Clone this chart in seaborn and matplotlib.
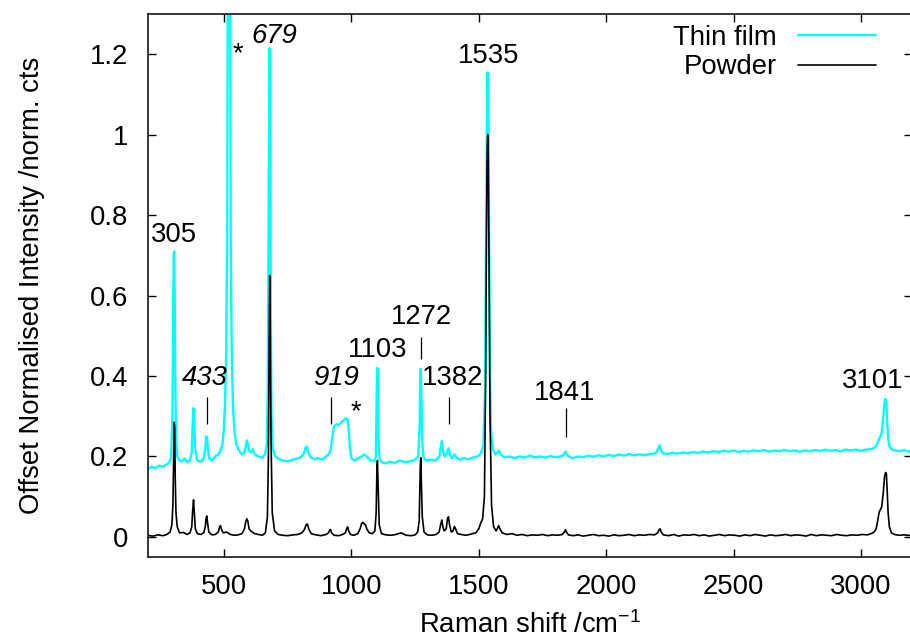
import matplotlib
matplotlib.use('Agg')
import matplotlib.pyplot as plt
import seaborn as sns
import pandas as pd
from matplotlib.ticker import FuncFormatter

# ---------------- data ----------------
powder_shift = [
    200, 220, 240, 260, 275, 288, 295, 299, 302, 304,
    306, 308, 311, 316, 325, 340, 355, 366, 373, 377,
    380, 383, 387, 395, 408, 420, 426, 429, 432, 435,
    440, 452, 465, 477, 483, 486, 490, 497, 510, 525,
    540, 555, 570, 580, 585, 589, 593, 598, 606, 620,
    635, 650, 662, 670, 674, 677, 679, 681, 684, 689,
    698, 712, 730, 750, 770, 790, 805, 815, 822, 827,
    832, 842, 860, 880, 900, 910, 915, 918, 922, 932,
    950, 965, 976, 981, 985, 989, 996, 1010, 1025, 1034,
    1040, 1045, 1050, 1055, 1060, 1070, 1082, 1092, 1097, 1100,
    1102, 1105, 1109, 1118, 1135, 1155, 1175, 1195, 1215, 1235,
    1250, 1260, 1266, 1270, 1272, 1274, 1278, 1285, 1298, 1315,
    1332, 1344, 1350, 1355, 1359, 1364, 1372, 1377, 1381, 1385,
    1392, 1399, 1404, 1409, 1416, 1430, 1450, 1470, 1488, 1500,
    1508, 1515, 1522, 1527, 1530, 1533, 1535, 1537, 1540, 1544,
    1550, 1558, 1568, 1574, 1578, 1583, 1592, 1610, 1630, 1650,
    1670, 1690, 1710, 1730, 1750, 1770, 1790, 1810, 1828, 1836,
    1840, 1844, 1852, 1870, 1890, 1910, 1930, 1950, 1970, 1990,
    2010, 2030, 2050, 2070, 2090, 2110, 2130, 2150, 2170, 2190,
    2202, 2208, 2212, 2216, 2225, 2245, 2265, 2285, 2305, 2325,
    2345, 2365, 2385, 2405, 2425, 2445, 2465, 2485, 2505, 2525,
    2545, 2565, 2585, 2605, 2625, 2645, 2665, 2685, 2705, 2725,
    2745, 2765, 2785, 2805, 2825, 2845, 2865, 2885, 2905, 2925,
    2945, 2965, 2985, 3005, 3025, 3040, 3052, 3060, 3066, 3072,
    3077, 3082, 3088, 3093, 3097, 3100, 3103, 3107, 3112, 3120,
    3132, 3150, 3170, 3200,
]
powder_int = [
    .004, .002, .005, .003, .006, .012, .030, .080, .200, .285,
    .270, .150, .060, .025, .010, .011, .006, .010, .025, .070,
    .092, .060, .020, .008, .006, .010, .025, .045, .052, .035,
    .012, .005, .006, .012, .026, .028, .018, .010, .012, .006,
    .004, .005, .008, .020, .038, .045, .040, .020, .014, .008,
    .006, .004, .010, .050, .200, .500, .650, .550, .250, .060,
    .015, .006, .004, .003, .005, .006, .010, .018, .030, .032,
    .020, .008, .005, .003, .006, .010, .018, .018, .010, .004,
    .003, .006, .010, .020, .025, .015, .006, .004, .008, .020,
    .034, .036, .032, .030, .020, .010, .008, .015, .060, .170,
    .190, .120, .030, .008, .005, .004, .006, .010, .004, .003,
    .005, .012, .040, .170, .197, .150, .050, .012, .005, .004,
    .006, .012, .030, .042, .025, .015, .020, .045, .050, .030,
    .012, .015, .026, .020, .008, .006, .004, .007, .010, .020,
    .035, .045, .100, .400, .750, .970, 1.000, .950, .700, .300,
    .080, .025, .015, .022, .028, .020, .010, .006, .008, .004,
    .006, .003, .005, .004, .006, .003, .005, .004, .006, .012,
    .018, .012, .005, .003, .005, .002, .004, .006, .003, .004,
    .002, .005, .003, .004, .006, .003, .005, .004, .006, .005,
    .010, .018, .020, .012, .005, .003, .006, .002, .005, .004,
    .006, .003, .005, .002, .004, .006, .003, .005, .004, .002,
    .005, .003, .006, .004, .002, .005, .003, .004, .006, .003,
    .005, .004, .002, .006, .003, .005, .004, .003, .006, .004,
    .003, .005, .004, .006, .005, .008, .012, .020, .040, .062,
    .068, .075, .110, .150, .160, .158, .120, .060, .025, .010,
    .006, .004, .005, .003,
]

film_shift = [
    200, 215, 230, 245, 260, 275, 285, 292, 297, 300,
    302, 304, 306, 308, 311, 316, 325, 335, 345, 355,
    366, 373, 376, 379, 382, 386, 395, 408, 420, 426,
    430, 433, 436, 442, 452, 465, 478, 486, 493, 498,
    503, 508, 512, 515, 517, 521, 523, 526, 530, 535,
    541, 548, 558, 570, 580, 585, 589, 593, 598, 606,
    612, 620, 635, 650, 660, 668, 672, 675, 677, 679,
    681, 683, 686, 691, 700, 712, 730, 750, 770, 790,
    805, 815, 820, 825, 830, 840, 855, 870, 885, 900,
    910, 918, 925, 932, 940, 950, 960, 970, 980, 986,
    990, 994, 1000, 1010, 1025, 1040, 1050, 1060, 1075, 1090,
    1096, 1099, 1101, 1103, 1106, 1110, 1120, 1135, 1150, 1170,
    1190, 1210, 1230, 1250, 1262, 1268, 1270, 1272, 1274, 1277,
    1282, 1292, 1310, 1330, 1345, 1351, 1355, 1359, 1366, 1374,
    1378, 1382, 1386, 1395, 1405, 1412, 1425, 1440, 1460, 1480,
    1495, 1505, 1512, 1518, 1524, 1528, 1531, 1533, 1535, 1537,
    1540, 1544, 1548, 1555, 1565, 1574, 1579, 1585, 1600, 1620,
    1640, 1660, 1680, 1700, 1720, 1740, 1760, 1780, 1800, 1820,
    1832, 1838, 1841, 1845, 1855, 1870, 1890, 1910, 1930, 1950,
    1970, 1990, 2010, 2030, 2050, 2070, 2090, 2110, 2130, 2150,
    2170, 2190, 2200, 2206, 2210, 2214, 2222, 2240, 2260, 2280,
    2300, 2320, 2340, 2360, 2380, 2400, 2420, 2440, 2460, 2480,
    2500, 2520, 2540, 2560, 2580, 2600, 2620, 2640, 2660, 2680,
    2700, 2720, 2740, 2760, 2780, 2800, 2820, 2840, 2860, 2880,
    2900, 2920, 2940, 2960, 2980, 3000, 3020, 3040, 3055, 3065,
    3072, 3077, 3082, 3088, 3093, 3097, 3100, 3103, 3107, 3112,
    3120, 3135, 3150, 3170, 3185, 3200,
]
film_int = [
    .168, .174, .171, .177, .175, .180, .185, .200, .300, .550,
    .700, .710, .600, .400, .250, .200, .190, .188, .195, .186,
    .190, .210, .270, .320, .290, .220, .190, .187, .195, .220,
    .250, .245, .220, .195, .190, .200, .205, .215, .230, .260,
    .320, .450, .750, 1.50, 2.50, 2.50, 1.50, .750, .450, .320,
    .260, .230, .215, .205, .210, .225, .240, .232, .215, .210,
    .218, .205, .200, .197, .205, .230, .400, .800, 1.10, 1.215,
    1.00, .600, .300, .220, .200, .195, .190, .188, .192, .195,
    .200, .210, .222, .225, .210, .198, .193, .196, .192, .200,
    .205, .215, .250, .275, .280, .278, .285, .290, .295, .290,
    .260, .220, .195, .190, .195, .200, .205, .200, .190, .188,
    .200, .350, .420, .400, .250, .195, .185, .183, .187, .184,
    .190, .186, .188, .192, .200, .280, .400, .418, .380, .250,
    .200, .190, .192, .190, .200, .225, .238, .215, .200, .205,
    .215, .220, .205, .195, .205, .198, .192, .196, .193, .198,
    .200, .205, .215, .230, .350, .700, 1.00, 1.13, 1.155, 1.10,
    .800, .400, .260, .220, .205, .210, .215, .205, .198, .200,
    .196, .200, .197, .202, .198, .200, .197, .201, .198, .200,
    .203, .210, .212, .205, .199, .196, .200, .198, .202, .199,
    .203, .200, .204, .201, .205, .202, .206, .203, .205, .203,
    .206, .207, .212, .222, .228, .218, .208, .206, .209, .207,
    .210, .208, .211, .209, .212, .210, .213, .211, .214, .212,
    .215, .211, .214, .212, .215, .213, .216, .212, .215, .213,
    .216, .213, .215, .212, .215, .213, .216, .214, .217, .214,
    .216, .213, .217, .215, .217, .214, .217, .218, .222, .232,
    .245, .250, .260, .300, .335, .343, .335, .290, .245, .225,
    .218, .215, .213, .216, .212, .214,
]

series_names = ['Thin film', 'Powder']
series_colors = ['#00ffff', '#000000']

# peak annotations
label_text = ['305', '433', '*', '679', '919', '*', '1103', '1272', '1382', '1535', '1841', '3101']
label_x = [305, 424, 555, 696, 939, 1017, 1102, 1274, 1396, 1537, 1836, 3046]
label_y = [0.732, 0.378, 1.183, 1.229, 0.378, 0.292, 0.448, 0.529, 0.378, 1.179, 0.340, 0.370]
label_italic = [False, True, False, True, True, False, False, False, False, False, False, False]

mark_x = [433, 919, 1272, 1382, 1841]
mark_y0 = [0.281, 0.281, 0.4425, 0.281, 0.249]
mark_y1 = [0.349, 0.349, 0.497, 0.349, 0.3205]

y_ticks = [0, 0.2, 0.4, 0.6, 0.8, 1.0, 1.2]
x_ticks = [500, 1000, 1500, 2000, 2500, 3000]

# ---------------- style ----------------
sns.set_style('ticks')
plt.rcParams['font.family'] = ['Liberation Sans', 'DejaVu Sans']
plt.rcParams['mathtext.fontset'] = 'custom'
plt.rcParams['mathtext.rm'] = 'Liberation Sans'
plt.rcParams['mathtext.it'] = 'Liberation Sans:italic'
plt.rcParams['mathtext.default'] = 'regular'
for k in ['text.color', 'axes.labelcolor', 'xtick.color', 'ytick.color', 'axes.edgecolor']:
    plt.rcParams[k] = 'black'
FS = 19.8

fig = plt.figure(figsize=(9.1, 6.39), dpi=100)
W, H = 910, 639
ax = fig.add_axes([147.7 / W, 1 - 557 / H, (911.8 - 147.7) / W, (557 - 14) / H])

film_df = pd.DataFrame({'shift': film_shift, 'intensity': film_int})
powder_df = pd.DataFrame({'shift': powder_shift, 'intensity': powder_int})

sns.lineplot(data=film_df, x='shift', y='intensity', color=series_colors[0],
             linewidth=1.7, ax=ax, label=series_names[0], estimator=None, sort=False)
sns.lineplot(data=powder_df, x='shift', y='intensity', color=series_colors[1],
             linewidth=1.2, ax=ax, label=series_names[1], estimator=None, sort=False)

ax.vlines(mark_x, mark_y0, mark_y1, color='black', linewidth=0.9)

for t, x, y, it in zip(label_text, label_x, label_y, label_italic):
    ax.text(x, y, t, ha='center', va='baseline', fontsize=FS,
            style='italic' if it else 'normal', zorder=5)

ax.set_xlim(200, 3200)
ax.set_ylim(-0.05, 1.3)
ax.set_xticks(x_ticks)
ax.set_yticks(y_ticks)
ax.yaxis.set_major_formatter(FuncFormatter(lambda v, _: f'{v:g}'))
ax.tick_params(direction='in', length=6, width=1, top=True, right=True,
               labelsize=FS, colors='black')
ax.tick_params(axis='y', pad=14)
ax.tick_params(axis='x', pad=12)
for s in ax.spines.values():
    s.set_linewidth(1.1)
    s.set_color('black')

ax.set_xlabel('Raman shift /cm$^{-1}$', fontsize=FS, labelpad=8.5)
ax.set_ylabel('Offset Normalised Intensity /norm. cts', fontsize=FS, labelpad=32)

leg = ax.legend(loc='upper right', bbox_to_anchor=(876 / W, 1 - 25 / H),
                bbox_transform=fig.transFigure, frameon=False, fontsize=FS,
                markerfirst=False, handlelength=2.85, handletextpad=0.75,
                labelspacing=0.12, borderpad=0, borderaxespad=0)

fig.savefig('out.png', dpi=100)
